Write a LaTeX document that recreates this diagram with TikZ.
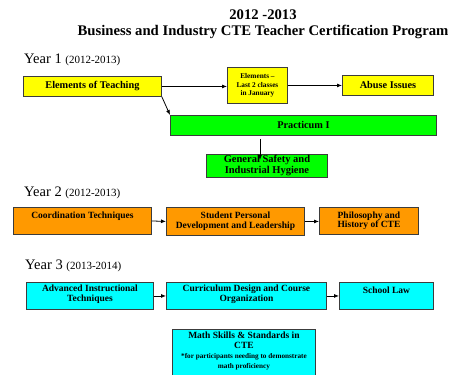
\documentclass[tikz,border=0pt]{standalone}
\usepackage{fontspec}
\setmainfont{Liberation Serif}
\usetikzlibrary{arrows.meta}

\definecolor{cteyellow}{RGB}{255,255,0}
\definecolor{ctegreen}{RGB}{0,255,0}
\definecolor{cteorange}{RGB}{255,153,0}
\definecolor{ctecyan}{RGB}{0,255,255}
\definecolor{cteedge}{RGB}{60,60,60}

\newcommand{\notesize}{\fontsize{7.2}{8.5}\selectfont}

\begin{document}
\begin{tikzpicture}[x=1pt,y=-1pt,
  course/.style={draw=cteedge,line width=0.9pt,anchor=north west,inner sep=1pt,
    align=center,font=\fontsize{9.5}{10}\selectfont\bfseries},
  firstyr/.style={course,fill=cteyellow,font=\fontsize{10.3}{11}\selectfont\bfseries},
  yearlbl/.style={anchor=base west,inner sep=0pt,font=\fontsize{14.5}{16}\selectfont},
  arr/.style={-{Latex[length=5pt,width=4pt]},line width=0.8pt}]
\useasboundingbox (0,0) rectangle (456,375);
\clip (0,0) rectangle (456,375);

% heading
\node[inner sep=0pt,anchor=north,align=center,font=\fontsize{14.7}{15.5}\selectfont\bfseries] (title) at (263,10)
  {2012 -2013\\Business and Industry CTE Teacher Certification Program};

% year 1
\node[yearlbl] (year1) at (24,63) {Year 1 {\fontsize{11}{12}\selectfont (2012-2013)}};
\node[firstyr,minimum width=138pt,minimum height=20pt] (teach) at (23,76) {Elements of Teaching};
\node[firstyr,minimum width=60pt,minimum height=36pt,font=\fontsize{7.3}{8.7}\selectfont\bfseries] (janu) at (227,67)
  {Elements --\\Last 2 classes\\in January};
\node[firstyr,minimum width=91pt,minimum height=20pt] (abuse) at (342,75) {Abuse Issues};
\node[firstyr,fill=ctegreen,minimum width=266pt,minimum height=20pt] (prac) at (170,115) {Practicum I};
\node[firstyr,fill=ctegreen,minimum width=121pt,minimum height=21pt,font=\fontsize{10.5}{11}\selectfont\bfseries] (safety) at (206,154)
  {General Safety and\\Industrial Hygiene};
\draw[arr] (teach.east) -- (teach.east -| janu.west);
\draw[arr] (janu.east) -- (janu.east -| abuse.west);
\draw[arr] (teach.south east) -- (prac.north west);
\draw[arr] ([xshift=-7pt,yshift=-3pt]safety.north |- prac.south) -- ([xshift=-7pt,yshift=-6pt]safety.north);

% year 2
\node[yearlbl] (year2) at (24,196) {Year 2 {\fontsize{11}{12}\selectfont (2012-2013)}};
\node[course,fill=cteorange,minimum width=138pt,minimum height=27pt,text depth=11pt] (coord) at (13,207) {Coordination Techniques};
\node[course,fill=cteorange,minimum width=138pt,minimum height=28pt] (stud) at (166,207)
  {Student Personal\\Development and Leadership};
\node[course,fill=cteorange,minimum width=99pt,minimum height=27pt,font=\fontsize{9.5}{9.5}\selectfont\bfseries] (phil) at (319,207)
  {Philosophy and\\History of CTE};
\draw[arr] (coord.east) -- (stud.west);
\draw[arr] (stud.east) -- (stud.east -| phil.west);

% year 3
\node[yearlbl] (year3) at (25,269) {Year 3 {\fontsize{11}{12}\selectfont (2013-2014)}};
\node[course,fill=ctecyan,minimum width=127pt,minimum height=27pt,text depth=5pt] (adv) at (26,282)
  {Advanced Instructional\\Techniques};
\node[course,fill=ctecyan,minimum width=160pt,minimum height=27pt,text depth=5pt] (curr) at (166,282)
  {Curriculum Design and Course\\Organization};
\node[course,fill=ctecyan,minimum width=94pt,minimum height=27pt,text depth=11pt] (law) at (339,282) {School Law};
\node[course,fill=ctecyan,minimum width=143pt,minimum height=56pt,text depth=15pt] (math) at (172,329)
  {Math Skills \& Standards in\\CTE\\{\notesize *for participants needing to demonstrate}\\{\notesize math proficiency}};
\draw[arr] (adv.east) -- (curr.west);
\draw[arr] (curr.east) -- (law.west);
\end{tikzpicture}
\end{document}
